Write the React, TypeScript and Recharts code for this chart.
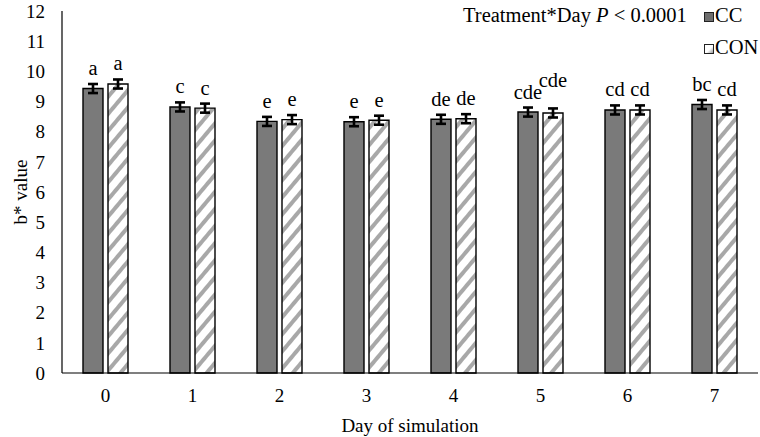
import React from 'react';
import { BarChart, Bar, XAxis, YAxis, ErrorBar, LabelList } from 'recharts';

const days = ['0', '1', '2', '3', '4', '5', '6', '7'];
const ccValues = [9.43, 8.82, 8.34, 8.33, 8.41, 8.65, 8.72, 8.9];
const conValues = [9.58, 8.78, 8.4, 8.38, 8.43, 8.62, 8.72, 8.72];
const ccErrors = [0.15, 0.15, 0.15, 0.15, 0.15, 0.15, 0.15, 0.15];
const conErrors = [0.15, 0.15, 0.15, 0.15, 0.15, 0.15, 0.15, 0.15];
const ccLetters = ['a', 'c', 'e', 'e', 'de', 'cde', 'cd', 'bc'];
const conLetters = ['a', 'c', 'e', 'e', 'de', 'cde', 'cd', 'cd'];
const yTicks = [0, 1, 2, 3, 4, 5, 6, 7, 8, 9, 10, 11, 12];

const data = days.map((d, i) => ({
  day: d,
  cc: ccValues[i],
  con: conValues[i],
  ccErr: ccErrors[i],
  conErr: conErrors[i],
}));

const FONT = '"Liberation Serif", "Times New Roman", serif';

const makeLetter = (letters: string[], errs: number[], series: string) => (props: any) => {
  const { x, y, width, height, value, index } = props;
  const pxPerUnit = Number(height) / Number(value);
  const errPx = errs[index] * pxPerUnit;
  let lift = 9;
  if (series === 'con' && index === 5) lift = 21;
  return (
    <text
      key={`${series}-${index}`}
      x={Number(x) + Number(width) / 2}
      y={Number(y) - errPx - lift}
      textAnchor="middle"
      fontFamily={FONT}
      fontSize={20.5}
      fill="#000"
    >
      {letters[index]}
    </text>
  );
};

export default function App() {
  return (
    <div style={{ position: 'absolute', left: 0, top: 0, width: 760, height: 437, background: '#fff', fontFamily: FONT }}>
      <BarChart
        width={760}
        height={437}
        data={data}
        margin={{ top: 11, right: 2, left: 0, bottom: 0 }}
        barSize={20}
        barGap={5}
      >
        <defs>
          <pattern id="hatch" patternUnits="userSpaceOnUse" width="11" height="11" patternTransform="rotate(40)">
            <rect x="0" y="0" width="11" height="11" fill="#ffffff" />
            <rect x="0" y="0" width="4" height="11" fill="#a8a8a8" />
          </pattern>
        </defs>
        <XAxis
          dataKey="day"
          height={64}
          tickLine={false}
          tickSize={0}
          tickMargin={16}
          axisLine={{ stroke: '#000', strokeWidth: 1.2 }}
          tick={{ fill: '#000', fontSize: 19, fontFamily: FONT }}
          label={{ value: 'Day of simulation', position: 'insideBottom', offset: 5, fill: '#000', fontSize: 19, fontFamily: FONT }}
        />
        <YAxis
          width={62}
          domain={[0, 12]}
          ticks={yTicks}
          interval={0}
          tickLine={false}
          tickSize={0}
          tickMargin={17}
          axisLine={{ stroke: '#000', strokeWidth: 1.2 }}
          tick={{ fill: '#000', fontSize: 19, fontFamily: FONT }}
          label={{ value: 'b* value', angle: -90, position: 'insideLeft', offset: 20, fill: '#000', fontSize: 19, fontFamily: FONT, style: { textAnchor: 'middle' } }}
        />
        <Bar dataKey="cc" fill="#7a7a7a" stroke="#000" strokeWidth={1.4} isAnimationActive={false}>
          <ErrorBar dataKey="ccErr" width={5} stroke="#000" strokeWidth={2.6} />
          <LabelList dataKey="cc" content={makeLetter(ccLetters, ccErrors, 'cc')} />
        </Bar>
        <Bar dataKey="con" fill="url(#hatch)" stroke="#000" strokeWidth={1.4} isAnimationActive={false}>
          <ErrorBar dataKey="conErr" width={5} stroke="#000" strokeWidth={2.6} />
          <LabelList dataKey="con" content={makeLetter(conLetters, conErrors, 'con')} />
        </Bar>
      </BarChart>
      <div style={{ position: 'absolute', left: 463, top: 3, fontSize: 20.5, lineHeight: '24px', color: '#000', whiteSpace: 'nowrap' }}>
        Treatment*Day <i>P</i> &lt; 0.0001
      </div>
      <div style={{ position: 'absolute', left: 704, top: 12, width: 8, height: 8, background: '#6e6e6e', border: '1px solid #222' }} />
      <div style={{ position: 'absolute', left: 715, top: 3, fontSize: 20.5, lineHeight: '24px', color: '#000' }}>CC</div>
      <div style={{ position: 'absolute', left: 704, top: 44, width: 8, height: 8, background: 'linear-gradient(135deg, #fff 55%, #999 100%)', border: '1px solid #222' }} />
      <div style={{ position: 'absolute', left: 715, top: 35, fontSize: 20.5, lineHeight: '24px', color: '#000' }}>CON</div>
    </div>
  );
}
